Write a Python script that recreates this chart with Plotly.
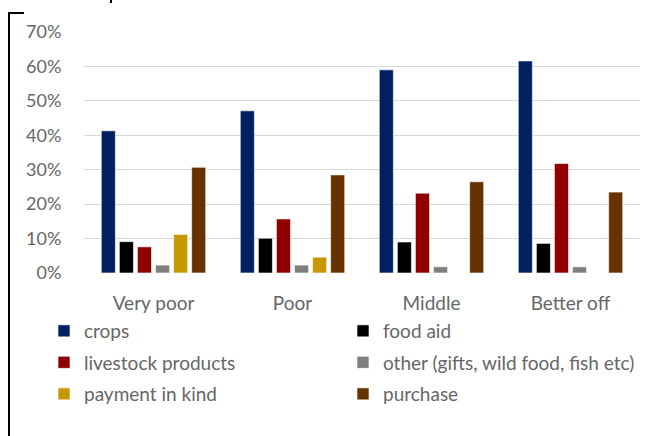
import plotly.graph_objects as go

categories = ["Very poor", "Poor", "Middle", "Better off"]
series_names = ["crops", "food aid", "livestock products",
                "other (gifts, wild food, fish etc)", "payment in kind", "purchase"]
crops = [0.413, 0.471, 0.590, 0.616]
food_aid = [0.091, 0.101, 0.090, 0.086]
livestock = [0.076, 0.157, 0.232, 0.318]
other = [0.023, 0.023, 0.018, 0.018]
payment = [0.112, 0.046, None, None]
purchase = [0.307, 0.285, 0.265, 0.235]
y_ticks = [0, 0.1, 0.2, 0.3, 0.4, 0.5, 0.6, 0.7]

series_values = [crops, food_aid, livestock, other, payment, purchase]
colors = ["#002060", "#000000", "#900000", "#7F7F7F", "#C89800", "#663300"]

W, H = 646, 436
L, R, T, B = 84, 6, 32, 163
pw, ph = W - L - R, H - T - B

def px_x(p):
    return (p - L) / pw

def px_y(p):
    return (H - B - p) / ph

FONT = "Lato"
grey = "#666666"

# legend slots: (left px, row centre px)
legend_pos = [(44, 331), (343, 331), (44, 362.5), (343, 362.5), (44, 394), (343, 394)]
legend_ids = ["legend"] + [f"legend{i}" for i in range(2, 7)]

fig = go.Figure()
for name, vals, col, lg in zip(series_names, series_values, colors, legend_ids):
    fig.add_trace(go.Bar(
        x=categories, y=vals, name=name, legend=lg,
        marker=dict(color=col, line=dict(color="rgba(255,255,255,0.6)", width=1)),
    ))

leg_layout = {}
for lg, (lx, ly) in zip(legend_ids, legend_pos):
    leg_layout[lg] = dict(orientation="h", x=px_x(lx), y=px_y(ly),
                          font=dict(family=FONT, size=19, color=grey),
                          bgcolor="rgba(0,0,0,0)", xanchor="left", yanchor="middle",
                          itemclick=False)

fig.update_layout(
    width=W, height=H,
    margin=dict(l=L, r=R, t=T, b=B, autoexpand=False),
    paper_bgcolor="white", plot_bgcolor="white",
    barmode="group", bargap=0.22, bargroupgap=0.22,
    showlegend=True,
    font=dict(family=FONT, size=18, color=grey),
    xaxis=dict(showgrid=False, showline=False, zeroline=False,
               ticks="outside", ticklen=13, tickcolor="rgba(0,0,0,0)",
               tickfont=dict(family=FONT, size=19, color=grey)),
    yaxis=dict(range=[0, 0.7], tickvals=y_ticks, tickformat=".0%",
               showgrid=True, gridcolor="#D9D9D9", gridwidth=1,
               zeroline=False, showline=False,
               ticks="outside", ticklen=18, tickcolor="rgba(0,0,0,0)",
               tickfont=dict(family=FONT, size=18, color=grey)),
    shapes=[
        dict(type="line", xref="paper", yref="paper",
             x0=px_x(9), x1=px_x(9), y0=px_y(12.5), y1=px_y(440),
             line=dict(color="black", width=2)),
        dict(type="line", xref="paper", yref="paper",
             x0=px_x(8), x1=px_x(24), y0=px_y(13), y1=px_y(13),
             line=dict(color="black", width=2)),
        dict(type="line", xref="paper", yref="paper",
             x0=px_x(111), x1=px_x(111), y0=px_y(0), y1=px_y(3),
             line=dict(color="black", width=2)),
    ],
    **leg_layout,
)

fig.write_html("out.html", config={"displayModeBar": False},
               post_script="document.body.style.margin='0';")
